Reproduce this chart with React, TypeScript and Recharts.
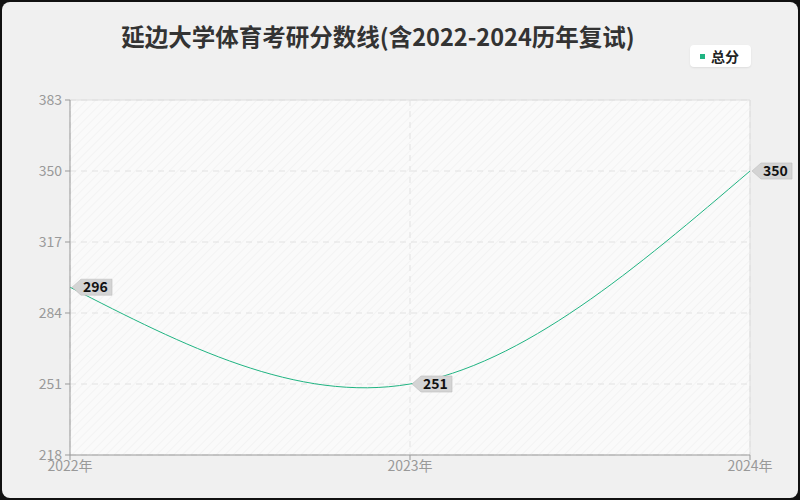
import React from "react";
import { LineChart, Line, XAxis, YAxis, CartesianGrid, LabelList, ReferenceLine } from "recharts";

const years = ["2022年", "2023年", "2024年"];
const totalScores = [296, 251, 350];
const yTicks = [218, 251, 284, 317, 350, 383];

const data = years.map((year, i) => ({ year, total: totalScores[i] }));

const FONT = '"Noto Sans CJK SC", "Noto Sans", sans-serif';
const GREEN = "#20b482";

function TagLabel(props: any) {
  const { x, y, value } = props;
  if (x == null || y == null) return null;
  const tip = x + 2;
  const h = 16;
  const w = 31;
  const top = y - h / 2;
  return (
    <g>
      <polygon
        points={`${tip},${y} ${tip + 9},${top} ${tip + 9 + w},${top} ${tip + 9 + w},${top + h} ${tip + 9},${top + h}`}
        fill="#d4d4d4"
        stroke="#bdbdbd"
        strokeWidth={0.6}
      />
      <text x={tip + 11} y={y + 5} fontSize={14} fontWeight={600} fill="#111" fontFamily={FONT}>
        {value}
      </text>
    </g>
  );
}

export default function App() {
  return (
    <div style={{ position: "fixed", left: 0, top: 0, width: 800, height: 500, background: "#111" }}>
      <div
        style={{
          position: "absolute",
          left: 2,
          top: 2,
          width: 796,
          height: 496,
          background: "#f0f0f0",
          borderRadius: 8,
        }}
      />
      <div
        style={{
          position: "absolute",
          left: 0,
          top: 19,
          width: 756,
          textAlign: "center",
          fontFamily: FONT,
          fontSize: 23.5,
          fontWeight: 700,
          color: "#333",
          lineHeight: "34px",
        }}
      >
        延边大学体育考研分数线(含2022-2024历年复试)
      </div>
      <div
        style={{
          position: "absolute",
          left: 690,
          top: 45,
          background: "#fff",
          borderRadius: 4,
          width: 61,
          height: 22,
          display: "flex",
          alignItems: "center",
          fontFamily: FONT,
          fontSize: 14,
          fontWeight: 600,
          color: "#222",
          boxShadow: "0 1px 2px rgba(0,0,0,0.08)",
        }}
      >
        <span style={{ width: 5, height: 5, background: GREEN, marginLeft: 10, marginRight: 6 }} />
        总分
      </div>
      <div style={{ position: "absolute", left: 0, top: 0 }}>
        <LineChart width={800} height={500} data={data} margin={{ top: 100, right: 50, bottom: 0, left: 0 }}>
          <defs>
            <pattern id="hatch" width="6" height="6" patternUnits="userSpaceOnUse" patternTransform="rotate(45)">
              <rect width="6" height="6" fill="#fafafa" />
              <line x1="0" y1="0" x2="0" y2="6" stroke="#f3f3f3" strokeWidth="2" />
            </pattern>
          </defs>
          <CartesianGrid stroke="#e2e2e2" strokeDasharray="6 5" fill="url(#hatch)" />
          <XAxis
            dataKey="year"
            height={45}
            tick={{ fill: "#999", fontSize: 14, fontFamily: FONT }}
            tickLine={{ stroke: "#999" }}
            axisLine={{ stroke: "#999" }}
            tickSize={5}
            tickMargin={1}
          />
          <YAxis
            width={70}
            domain={[218, 383]}
            ticks={yTicks}
            interval={0}
            tick={{ fill: "#999", fontSize: 14, fontFamily: FONT }}
            tickLine={{ stroke: "#999" }}
            axisLine={{ stroke: "#999" }}
            tickSize={5}
            tickMargin={3}
          />
          {/* solid light border on the top and right edges of the plot */}
          <ReferenceLine y={yTicks[yTicks.length - 1]} stroke="#dedede" />
          <ReferenceLine x={years[years.length - 1]} stroke="#dedede" />
          <Line
            type="natural"
            dataKey="total"
            stroke={GREEN}
            strokeWidth={1}
            dot={false}
            activeDot={false}
            isAnimationActive={false}
          >
            <LabelList dataKey="total" content={TagLabel} />
          </Line>
        </LineChart>
      </div>
    </div>
  );
}
